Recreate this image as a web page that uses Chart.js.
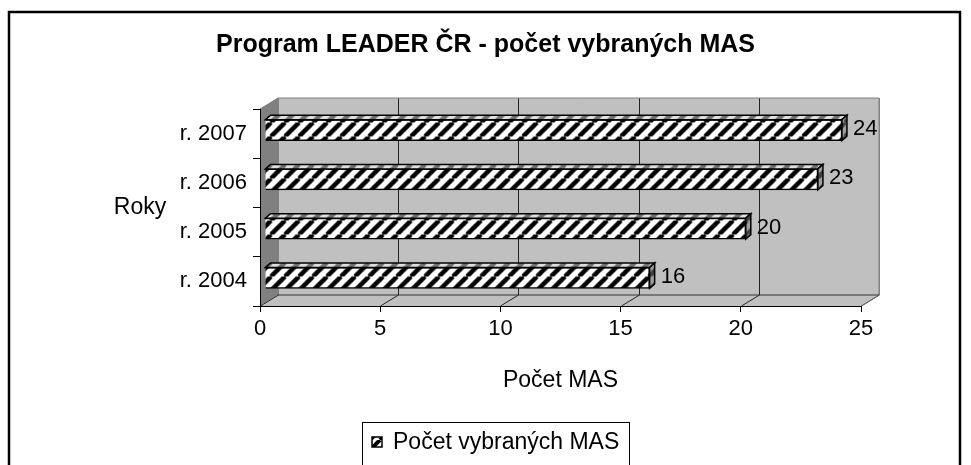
<!DOCTYPE html>
<html>
<head>
<meta charset="utf-8">
<script src="https://cdn.jsdelivr.net/npm/chart.js@4/dist/chart.umd.min.js"></script>
<style>
  html, body { margin: 0; padding: 0; background: #fff; }
  #wrap { width: 971px; height: 465px; position: relative; }
</style>
</head>
<body>
<div id="wrap"><canvas id="masChart"></canvas></div>
<script>
const years = ['r. 2004', 'r. 2005', 'r. 2006', 'r. 2007'];
const masCounts = [16, 20, 23, 24];
const countTicks = [0, 5, 10, 15, 20, 25];

const FONT = "'Liberation Sans', Arial, sans-serif";
const WALL = { dx: 18, dy: -11 };     // depth of the 3D box
const BAR_SHIFT = { dx: 5, dy: -3.5 }; // bars sit a bit behind the front plane
const BAR_DEPTH = { dx: 5, dy: -4.5 };

function hatch(bg, fg, size, width) {
  const c = document.createElement('canvas');
  c.width = c.height = size;
  const g = c.getContext('2d');
  g.fillStyle = bg;
  g.fillRect(0, 0, size, size);
  g.strokeStyle = fg;
  g.lineWidth = width;
  g.beginPath();
  for (let k = -1; k <= 1; k++) {
    g.moveTo(k * size, size);
    g.lineTo(k * size + size, 0);
  }
  g.stroke();
  return g.createPattern(c, 'repeat');
}

const ctx0 = document.getElementById('masChart').getContext('2d');
const frontHatch = hatch('#ffffff', '#000000', 14, 4.5);
const topHatch = hatch('#e0e0e0', '#707070', 14, 4.5);
const sideHatch = hatch('#a0a0a0', '#404040', 14, 4.5);
const legendHatch = hatch('#ffffff', '#000000', 10, 4);

function poly(ctx, pts) {
  ctx.beginPath();
  ctx.moveTo(pts[0][0], pts[0][1]);
  for (let i = 1; i < pts.length; i++) ctx.lineTo(pts[i][0], pts[i][1]);
  ctx.closePath();
}

const box3d = {
  id: 'box3d',
  beforeDraw(chart) {
    const { ctx, chartArea: a, scales: { x } } = chart;
    const { dx, dy } = WALL;
    ctx.save();
    // outer frame
    ctx.strokeStyle = '#000';
    ctx.lineWidth = 2.5;
    ctx.strokeRect(9, 12, 951, 470);
    // back wall
    ctx.fillStyle = '#c0c0c0';
    ctx.fillRect(a.left + dx, a.top + dy, a.right - a.left, a.bottom - a.top);
    // left wall
    ctx.fillStyle = '#808080';
    poly(ctx, [[a.left, a.top], [a.left + dx, a.top + dy], [a.left + dx, a.bottom + dy], [a.left, a.bottom]]);
    ctx.fill();
    // floor
    ctx.fillStyle = '#c0c0c0';
    poly(ctx, [[a.left, a.bottom], [a.left + dx, a.bottom + dy], [a.right + dx, a.bottom + dy], [a.right, a.bottom]]);
    ctx.fill();
    // grid lines on the back wall and floor
    ctx.lineWidth = 1;
    countTicks.forEach(v => {
      const px = Math.round(x.getPixelForValue(v)) + 0.5;
      ctx.strokeStyle = (v === 0 || v === countTicks[countTicks.length - 1]) ? '#808080' : '#222';
      ctx.beginPath();
      ctx.moveTo(px + dx, a.top + dy);
      ctx.lineTo(px + dx, a.bottom + dy);
      ctx.stroke();
      ctx.strokeStyle = '#222';
      ctx.beginPath();
      ctx.moveTo(px, a.bottom);
      ctx.lineTo(px + dx, a.bottom + dy);
      ctx.stroke();
    });
    // wall outlines
    ctx.strokeStyle = '#808080';
    ctx.beginPath();
    ctx.moveTo(a.left, a.top);
    ctx.lineTo(a.left + dx, a.top + dy);
    ctx.lineTo(a.right + dx, a.top + dy);
    ctx.lineTo(a.right + dx, a.bottom + dy);
    ctx.lineTo(a.right, a.bottom);
    ctx.stroke();
    ctx.strokeStyle = '#333';
    ctx.beginPath();
    ctx.moveTo(a.left + dx, a.bottom + dy);
    ctx.lineTo(a.right + dx, a.bottom + dy);
    ctx.stroke();
    // y axis title, horizontal like the original
    ctx.fillStyle = '#000';
    ctx.font = '23px ' + FONT;
    ctx.textAlign = 'center';
    ctx.textBaseline = 'middle';
    ctx.fillText('Roky', 140, (a.top + a.bottom) / 2);
    ctx.restore();
  },
  beforeDatasetDraw(chart) {
    chart.ctx.save();
    chart.ctx.translate(BAR_SHIFT.dx, BAR_SHIFT.dy);
  },
  afterDatasetDraw(chart, args) {
    const ctx = chart.ctx;
    const { dx, dy } = BAR_DEPTH;
    args.meta.data.forEach((bar, i) => {
      const { x, y, base, height } = bar.getProps(['x', 'y', 'base', 'height'], true);
      const top = y - height / 2, bottom = y + height / 2;
      ctx.lineWidth = 1.5;
      ctx.strokeStyle = '#000';
      ctx.fillStyle = topHatch;
      poly(ctx, [[base, top], [base + dx, top + dy], [x + dx, top + dy], [x, top]]);
      ctx.fill();
      ctx.stroke();
      ctx.fillStyle = sideHatch;
      poly(ctx, [[x, top], [x + dx, top + dy], [x + dx, bottom + dy], [x, bottom]]);
      ctx.fill();
      ctx.stroke();
      ctx.fillStyle = '#000';
      ctx.font = '22px ' + FONT;
      ctx.textAlign = 'left';
      ctx.textBaseline = 'middle';
      ctx.fillText(String(masCounts[i]), x + 11, y - 1);
    });
    ctx.restore();
  },
  afterDraw(chart) {
    const ctx = chart.ctx;
    ctx.save();
    ctx.strokeStyle = '#000';
    ctx.lineWidth = 1;
    ctx.strokeRect(362.5, 422.5, 267, 60);
    ctx.fillStyle = legendHatch;
    ctx.fillRect(372, 437, 10, 10);
    ctx.lineWidth = 1.5;
    ctx.strokeRect(372, 437, 10, 10);
    ctx.fillStyle = '#000';
    ctx.font = '23px ' + FONT;
    ctx.textAlign = 'left';
    ctx.textBaseline = 'middle';
    ctx.fillText('Počet vybraných MAS', 393, 443);
    ctx.restore();
  }
};

new Chart(ctx0, {
  type: 'bar',
  data: {
    labels: years,
    datasets: [{
      label: 'Počet vybraných MAS',
      data: masCounts,
      backgroundColor: frontHatch,
      borderColor: '#000',
      borderWidth: 1.5,
      barThickness: 21,
      clip: false
    }]
  },
  options: {
    indexAxis: 'y',
    responsive: true,
    maintainAspectRatio: false,
    animation: false,
    layout: { padding: { top: 0, left: 0, right: 0, bottom: 59 } },
    plugins: {
      legend: { display: false },
      tooltip: { enabled: false },
      title: {
        display: true,
        text: 'Program LEADER ČR - počet vybraných MAS',
        color: '#000',
        font: { family: FONT, size: 25, weight: 'bold' },
        padding: { top: 30, bottom: 109 - 30 - 30 }
      }
    },
    scales: {
      x: {
        min: 0,
        max: 25,
        afterBuildTicks: s => { s.ticks = countTicks.map(v => ({ value: v })); },
        afterFit: s => { s.height = 100; },
        grid: { drawOnChartArea: false, drawTicks: true, tickLength: 6, color: '#000' },
        border: { display: true, color: '#000', width: 1 },
        ticks: { color: '#000', padding: 4, font: { family: FONT, size: 22 } },
        title: {
          display: true,
          text: 'Počet MAS',
          color: '#000',
          font: { family: FONT, size: 23 },
          padding: { top: 0, bottom: 12 }
        }
      },
      y: {
        reverse: true,
        afterFit: s => { s.width = 260; },
        grid: { drawOnChartArea: false, drawTicks: true, tickLength: 7, color: '#000', offset: true },
        border: { display: true, color: '#000', width: 1 },
        ticks: { color: '#000', padding: 6, font: { family: FONT, size: 22 } }
      },
      // empty right-hand gutter so the plot ends where the original does
      gutter: {
        type: 'linear',
        position: 'right',
        afterFit: s => { s.width = 110; },
        grid: { display: false },
        border: { display: false },
        ticks: { display: false }
      }
    }
  },
  plugins: [box3d]
});
</script>
</body>
</html>
